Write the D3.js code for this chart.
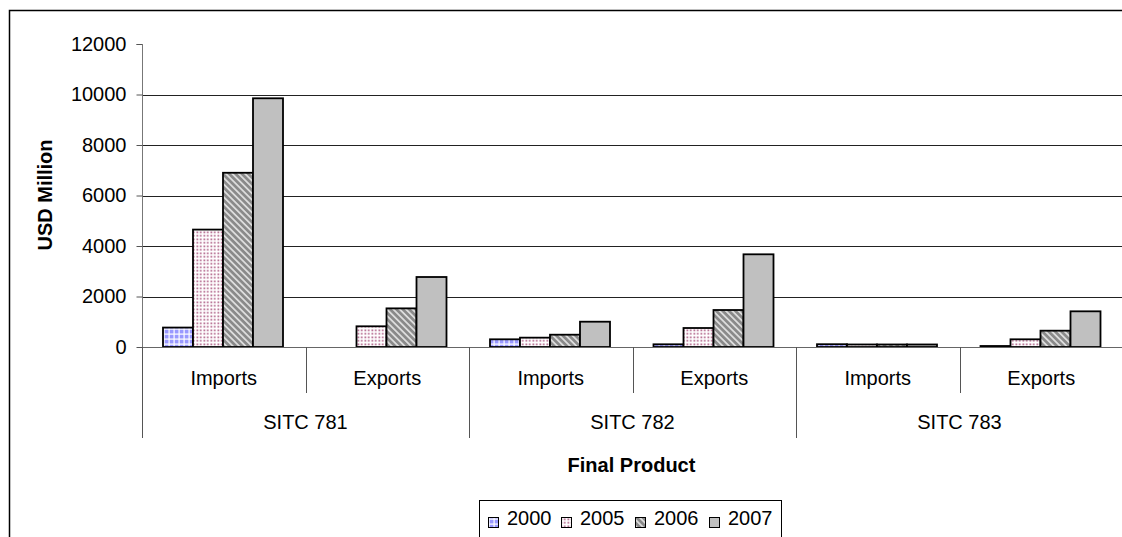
<!DOCTYPE html>
<html>
<head>
<meta charset="utf-8">
<script src="https://cdn.jsdelivr.net/npm/d3@7"></script>
<style>
  body { margin: 0; background: #fff; overflow: hidden; }
  svg { display: block; font-family: "Liberation Sans", Arial, sans-serif; }
</style>
</head>
<body>
<svg id="chart" width="1122" height="537"></svg>
<script>
// Trade values (USD million) by product group and flow
const products = ["SITC 781", "SITC 782", "SITC 783"];
const flows = ["Imports", "Exports"];
const years = ["2000", "2005", "2006", "2007"];
const values2000 = [770, 0, 305, 107, 110, 40];
const values2005 = [4650, 820, 370, 752, 100, 305];
const values2006 = [6900, 1530, 487, 1465, 100, 646];
const values2007 = [9850, 2772, 1002, 3671, 100, 1413];
const yTicks = [0, 2000, 4000, 6000, 8000, 10000, 12000];

(function () {
  const seriesValues = [values2000, values2005, values2006, values2007];
  const groups = products.flatMap(p => flows.map(f => ({ product: p, flow: f, key: p + "|" + f })));
  const FS = 20;

  const svg = d3.select("#chart");
  const plotLeft = 142, plotRight = 1123, plotTop = 44, plotBottom = 347;

  // Outer chart frame
  svg.append("rect").attr("x", 9.5).attr("y", 10.5).attr("width", 1130).attr("height", 540)
    .attr("fill", "#fff").attr("stroke", "#000").attr("stroke-width", 1.5);

  // Fill patterns
  const defs = svg.append("defs");
  const p2000 = defs.append("pattern").attr("id", "pat2000").attr("patternUnits", "userSpaceOnUse")
    .attr("width", 5).attr("height", 5);
  p2000.append("rect").attr("width", 5).attr("height", 5).attr("fill", "#9999FF");
  p2000.append("rect").attr("x", 3.5).attr("width", 1.2).attr("height", 5).attr("fill", "#fff");
  p2000.append("rect").attr("y", 3.5).attr("width", 5).attr("height", 1.2).attr("fill", "#fff");

  const p2005 = defs.append("pattern").attr("id", "pat2005").attr("patternUnits", "userSpaceOnUse")
    .attr("width", 3.5).attr("height", 3.5);
  p2005.append("rect").attr("width", 3.5).attr("height", 3.5).attr("fill", "#fff");
  p2005.append("rect").attr("x", 0.5).attr("y", 0.5).attr("width", 1.6).attr("height", 1.6).attr("fill", "#a64d79");

  const p2006 = defs.append("pattern").attr("id", "pat2006").attr("patternUnits", "userSpaceOnUse")
    .attr("width", 4.5).attr("height", 4.5).attr("patternTransform", "rotate(-45)");
  p2006.append("rect").attr("width", 4.5).attr("height", 4.5).attr("fill", "#8a8a8a");
  p2006.append("rect").attr("width", 1.8).attr("height", 4.5).attr("fill", "#dcdcdc");

  const fills = ["url(#pat2000)", "url(#pat2005)", "url(#pat2006)", "#C0C0C0"];

  // Scales
  const x0 = d3.scaleBand().domain(groups.map(g => g.key)).range([plotLeft, plotRight]).padding(0);
  const x1 = d3.scaleBand().domain(years).range([21, x0.bandwidth() - 22.5]).padding(0);
  const y = d3.scaleLinear().domain([0, 12000]).range([plotBottom, plotTop]);

  // Gridlines
  svg.append("g").selectAll("line").data(yTicks.filter(t => t > 0 && t < 12000)).join("line")
    .attr("x1", plotLeft).attr("x2", plotRight)
    .attr("y1", d => Math.round(y(d)) + 0.5).attr("y2", d => Math.round(y(d)) + 0.5)
    .attr("stroke", "#222").attr("stroke-width", 1);

  // Y axis
  const yAxis = svg.append("g").attr("transform", `translate(${plotLeft + 0.5},0)`)
    .call(d3.axisLeft(y).tickValues(yTicks).tickSize(6).tickPadding(10).tickFormat(d3.format("d")));
  yAxis.select(".domain").attr("stroke", "#777").attr("d", `M-6,${plotTop + 0.5}H0V${plotBottom}`);
  yAxis.selectAll(".tick line").attr("stroke", "#555");
  yAxis.selectAll(".tick text").attr("font-size", FS).attr("fill", "#000")
    .attr("font-family", "Liberation Sans, Arial, sans-serif");

  // Bars
  const barG = svg.append("g");
  groups.forEach((g, gi) => {
    years.forEach((yr, si) => {
      const v = seriesValues[si][gi];
      if (!v) return;
      barG.append("rect")
        .attr("x", x0(g.key) + x1(yr))
        .attr("y", y(v))
        .attr("width", x1.bandwidth())
        .attr("height", y(0) - y(v))
        .attr("fill", fills[si])
        .attr("stroke", "#000").attr("stroke-width", 1.8);
    });
  });

  // Baseline
  svg.append("line").attr("x1", plotLeft).attr("x2", plotRight)
    .attr("y1", plotBottom + 0.5).attr("y2", plotBottom + 0.5)
    .attr("stroke", "#666").attr("stroke-width", 1.2);

  // Category ticks and labels (two-level axis)
  const catG = svg.append("g");
  groups.forEach((g, gi) => {
    const xs = x0(g.key);
    const isOuter = gi % 2 === 0;
    catG.append("line").attr("x1", Math.round(xs) + 0.5).attr("x2", Math.round(xs) + 0.5)
      .attr("y1", plotBottom).attr("y2", isOuter ? 438 : 393).attr("stroke", "#555");
    catG.append("text").attr("x", xs + x0.bandwidth() / 2).attr("y", 385)
      .attr("text-anchor", "middle").attr("font-size", FS).text(g.flow);
  });
  products.forEach(p => {
    const xs = x0(p + "|Imports");
    catG.append("text").attr("x", xs + x0.bandwidth()).attr("y", 429)
      .attr("text-anchor", "middle").attr("font-size", FS).text(p);
  });

  // Axis titles
  svg.append("text").attr("x", (plotLeft + plotRight) / 2 - 1).attr("y", 472)
    .attr("text-anchor", "middle").attr("font-size", FS).attr("font-weight", "bold").text("Final Product");
  svg.append("text").attr("transform", "translate(52,195) rotate(-90)")
    .attr("text-anchor", "middle").attr("font-size", FS).attr("font-weight", "bold").text("USD Million");

  // Legend
  const lg = svg.append("g");
  lg.append("rect").attr("x", 479.5).attr("y", 500.5).attr("width", 302).attr("height", 50)
    .attr("fill", "#fff").attr("stroke", "#000").attr("stroke-width", 1);
  const legX = [488, 561, 635, 709];
  years.forEach((yr, i) => {
    lg.append("rect").attr("x", legX[i] + 0.5).attr("y", 517.5).attr("width", 10).attr("height", 10)
      .attr("fill", fills[i]).attr("stroke", "#000").attr("stroke-width", 1);
    lg.append("text").attr("x", legX[i] + 19).attr("y", 525).attr("font-size", FS).text(yr);
  });
})();
</script>
</body>
</html>
